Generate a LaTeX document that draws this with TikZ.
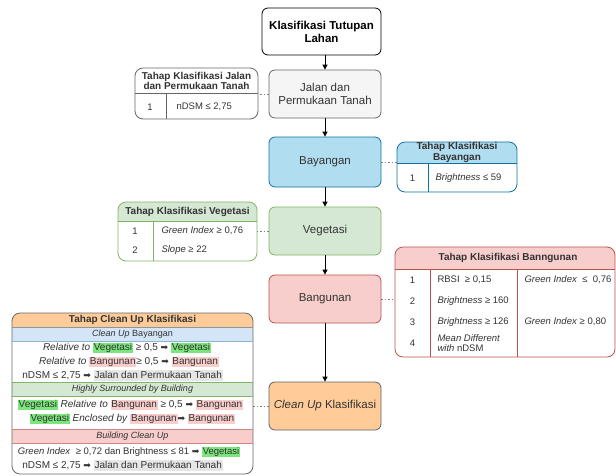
\documentclass[tikz,border=0pt]{standalone}
\usepackage{fontspec}
\setmainfont{Liberation Sans}
\newfontfamily\dv{DejaVu Sans}
\usetikzlibrary{arrows.meta}
\definecolor{txtc}{HTML}{333333}
\definecolor{jalD}{HTML}{666666}
\definecolor{jalF}{HTML}{F5F5F5}
\definecolor{bayD}{HTML}{10739E}
\definecolor{bayF}{HTML}{B1DDF0}
\definecolor{vegD}{HTML}{82B366}
\definecolor{vegF}{HTML}{D5E8D4}
\definecolor{banD}{HTML}{B85450}
\definecolor{banF}{HTML}{F8CECC}
\definecolor{cuD}{HTML}{36393D}
\definecolor{cuF}{HTML}{FFCC99}
\definecolor{cubF}{HTML}{D4E5F7}
\definecolor{hlgreen}{HTML}{7BE67B}
\definecolor{hlpink}{HTML}{F8CECC}
\definecolor{hlgray}{HTML}{E6E6E6}
\newcommand{\hlg}[1]{\begingroup\setlength{\fboxsep}{0.8pt}\colorbox{hlgreen}{\vphantom{Ag}#1}\endgroup}
\newcommand{\hlp}[1]{\begingroup\setlength{\fboxsep}{0.8pt}\colorbox{hlpink}{\vphantom{Ag}#1}\endgroup}
\newcommand{\hlq}[1]{\begingroup\setlength{\fboxsep}{0.8pt}\colorbox{hlgray}{\vphantom{Ag}#1}\endgroup}
\newcommand{\myarr}{{\dv\fontsize{9}{11}\selectfont ➡}}
\begin{document}
\begin{tikzpicture}[x=1pt,y=-1pt,line join=round,
  mbox/.style={draw, rounded corners=6pt, minimum width=112pt, minimum height=48pt, align=center, inner sep=2pt, line width=0.8pt, text=txtc, font=\fontsize{11.5}{13.5}\selectfont},
  flow/.style={-{Triangle[length=5pt,width=5pt]}, line width=0.8pt, draw=black},
  dotc/.style={draw=gray, line width=0.8pt, dash pattern=on 1.5pt off 2pt},
  tout/.style={draw, rounded corners=8pt, inner sep=0pt, line width=0.8pt},
  hd/.style={font=\bfseries\fontsize{10}{10.5}\selectfont, align=center, text=txtc},
  rw/.style={font=\fontsize{9.5}{11}\selectfont, text=txtc},
  cr/.style={font=\fontsize{10}{11}\selectfont, text=txtc, inner sep=0pt},
  tl/.style={line width=0.8pt}
]
\useasboundingbox (0,0) rectangle (616,475);

% ---------- main flow ----------
\node[mbox, draw=black, fill=white, font=\bfseries\fontsize{11.5}{13}\selectfont, minimum width=119pt, minimum height=47pt, text=black] (top) at (321.5,31.5) {Klasifikasi Tutupan\\Lahan};
\node[mbox, draw=jalD, fill=jalF] (jal) at (325,94) {Jalan dan\\Permukaan Tanah};
\node[mbox, draw=bayD, fill=bayF, minimum height=50pt] (bay) at (325,162) {Bayangan};
\node[mbox, draw=vegD, fill=vegF] (veg) at (325,231) {Vegetasi};
\node[mbox, draw=banD, fill=banF] (ban) at (325,299) {Bangunan};
\node[mbox, draw=cuD!80, fill=cuF] (cu) at (325,406) {\textit{Clean Up} Klasifikasi};

\draw[flow] (jal.north |- top.south) -- (jal.north);
\draw[flow] (jal.south) -- (bay.north);
\draw[flow] (bay.south) -- (veg.north);
\draw[flow] (veg.south) -- (ban.north);
\draw[flow] (ban.south) -- (cu.north);

% ---------- Jalan table ----------
\begin{scope}
\clip[rounded corners=8pt] (135,68) rectangle (258,119);
\fill[white] (135,68) rectangle (258,119);
\end{scope}
\node[tout, draw=jalD, minimum width=123pt, minimum height=51pt] (tj) at (196.5,93.5) {};
\draw[tl, draw=jalD] (135,93) -- (258,93);
\draw[tl, draw=jalD] (166,93) -- (166,119);
\node[hd] (tjh) at (196.5,81) {Tahap Klasifikasi Jalan\\dan Permukaan Tanah};
\node[rw] (tj1) at (150,107) {1};
\node[rw, anchor=west] (tj2) at (173,107) {nDSM ≤ 2,75};

% ---------- Bayangan table ----------
\begin{scope}
\clip[rounded corners=8pt] (397,142) rectangle (517,192);
\fill[white] (397,142) rectangle (517,192);
\fill[bayF] (397,142) rectangle (517,163);
\end{scope}
\node[tout, draw=bayD, minimum width=120pt, minimum height=50pt] (tb) at (457,167) {};
\draw[tl, draw=bayD] (397,163) -- (517,163);
\draw[tl, draw=bayD] (428,163) -- (428,192);
\node[hd] (tbh) at (457,152.5) {Tahap Klasifikasi\\Bayangan};
\node[rw] (tb1) at (412.5,178) {1};
\node[rw, anchor=west] (tb2) at (432,178) {\textit{Brightness} ≤ 59};

% ---------- Vegetasi table ----------
\begin{scope}
\clip[rounded corners=8pt] (118,202) rectangle (257,261);
\fill[white] (118,202) rectangle (257,261);
\fill[vegF] (118,202) rectangle (257,221);
\end{scope}
\node[tout, draw=vegD, minimum width=139pt, minimum height=59pt] (tv) at (187.5,231.5) {};
\draw[tl, draw=vegD] (118,221) -- (257,221);
\draw[tl, draw=vegD] (153,221) -- (153,261);
\node[hd] (tvh) at (187.5,211.5) {Tahap Klasifikasi Vegetasi};
\node[rw] (tv1) at (135,231) {1};
\node[rw, anchor=west] (tv2) at (158,231) {\textit{Green Index} ≥ 0,76};
\node[rw] (tv3) at (135,250) {2};
\node[rw, anchor=west] (tv4) at (158,250) {\textit{Slope} ≥ 22};

% ---------- Bangunan table ----------
\begin{scope}
\clip[rounded corners=8pt] (395,247) rectangle (615,357);
\fill[white] (395,247) rectangle (615,357);
\fill[banF] (395,247) rectangle (615,269);
\end{scope}
\node[tout, draw=banD, minimum width=220pt, minimum height=110pt] (tg) at (505,302) {};
\draw[tl, draw=banD] (395,269) -- (615,269);
\draw[tl, draw=banD] (430,269) -- (430,357);
\draw[tl, draw=banD] (517,269) -- (517,357);
\node[hd] (tgh) at (508,258) {Tahap Klasifikasi Banngunan};
\node[rw] (tg1) at (412.5,280) {1};
\node[rw, anchor=west] (tg1b) at (434,280) {RBSI\ \ ≥ 0,15};
\node[rw, anchor=west] (tg1c) at (521,280) {\textit{Green Index}\ \ ≤\ \ 0,76};
\node[rw] (tg2) at (412.5,301) {2};
\node[rw, anchor=west] (tg2b) at (434,301) {\textit{Brightness} ≥ 160};
\node[rw] (tg3) at (412.5,322) {3};
\node[rw, anchor=west] (tg3b) at (434,322) {\textit{Brightness} ≥ 126};
\node[rw, anchor=west] (tg3c) at (521,322) {\textit{Green Index} ≥ 0,80};
\node[rw] (tg4) at (412.5,343) {4};
\node[rw, anchor=west, align=left, font=\fontsize{9.5}{10.5}\selectfont] (tg4b) at (434,343) {\textit{Mean Different}\\\textit{with} nDSM};

% ---------- Clean Up table ----------
\begin{scope}
\clip[rounded corners=8pt] (12,313) rectangle (253,474);
\fill[white] (12,313) rectangle (253,474);
\fill[cuF] (12,313) rectangle (253,327);
\fill[cubF] (12,327) rectangle (253,341);
\fill[vegF] (12,382) rectangle (253,396);
\fill[banF] (12,429) rectangle (253,443);
\end{scope}
\node[tout, draw=jalD, minimum width=241pt, minimum height=161pt] (tc) at (132.5,393.5) {};
\draw[tl, draw=jalD!70] (12,327) -- (253,327);
\draw[tl, draw=bayD!50] (12,341) -- (253,341);
\draw[tl, draw=vegD] (12,382) -- (253,382);
\draw[tl, draw=vegD] (12,396) -- (253,396);
\draw[tl, draw=banD!70] (12,429) -- (253,429);
\draw[tl, draw=banD!70] (12,443) -- (253,443);
\node[hd] (tch) at (132.5,320) {Tahap Clean Up Klasifikasi};
\node[cr, font=\fontsize{9}{10}\selectfont] (tcb) at (132.5,334) {\textit{Clean Up} Bayangan};
\node[cr] (tc1) at (127,348) {\textit{Relative to} \hlg{Vegetasi} ≥ 0,5 \myarr\ \hlg{Vegetasi}};
\node[cr] (tc2) at (129,362) {\textit{Relative to} \hlp{Bangunan}≥ 0,5 \myarr\ \hlp{Bangunan}};
\node[cr] (tc3) at (122.5,375.5) {nDSM ≤ 2,75 \myarr\ \hlq{Jalan dan Permukaan Tanah}};
\node[cr, font=\itshape\fontsize{9}{10}\selectfont] (tcs) at (132.5,389) {Highly Surrounded by Building};
\node[cr] (tc4) at (130.5,405) {\hlg{Vegetasi} \textit{Relative to} \hlp{Bangunan} ≥ 0,5 \myarr\ \hlp{Bangunan}};
\node[cr] (tc5) at (132.5,419) {\hlg{Vegetasi} \textit{Enclosed by} \hlp{Bangunan}\myarr\ \hlp{Bangunan}};
\node[cr, font=\itshape\fontsize{9}{10}\selectfont] (tcc) at (132.5,436) {Building Clean Up};
\node[cr, font=\fontsize{9.5}{11}\selectfont] (tc6) at (129,452) {\textit{Green Index}\ \ ≥ 0,72 dan Brightness ≤ 81 \myarr\ \hlg{Vegetasi}};
\node[cr] (tc7) at (122.5,465.5) {nDSM ≤ 2,75 \myarr\ \hlq{Jalan dan Permukaan Tanah}};

% ---------- dotted links ----------
\draw[dotc] (jal.west) -- (jal.west -| tj.east);
\draw[dotc] (bay.east) -- (bay.east -| tb.west);
\draw[dotc] (veg.west) -- (veg.west -| tv.east);
\draw[dotc] (ban.east) -- (ban.east -| tg.west);
\draw[dotc] (cu.west) -- (cu.west -| tc.east);
\end{tikzpicture}
\end{document}
